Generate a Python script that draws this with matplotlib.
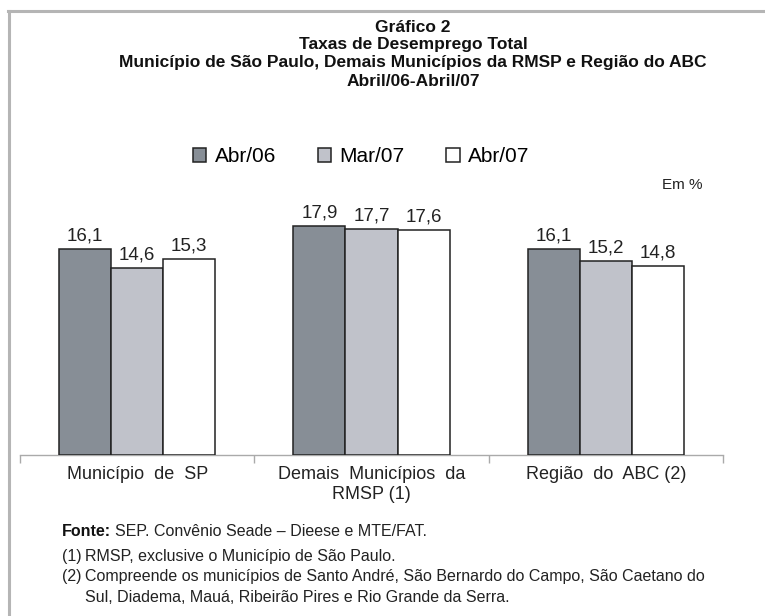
import matplotlib
matplotlib.use('Agg')
import matplotlib.pyplot as plt
from matplotlib.patches import Patch
from matplotlib.lines import Line2D
import numpy as np

NARROW = ['Liberation Sans Narrow', 'Liberation Sans', 'DejaVu Sans']
REGULAR = ['Liberation Sans', 'DejaVu Sans']

# dados
categorias = ['Município  de  SP', 'Demais  Municípios  da\nRMSP (1)', 'Região  do  ABC (2)']
series = ['Abr/06', 'Mar/07', 'Abr/07']
abr06 = [16.1, 17.9, 16.1]
mar07 = [14.6, 17.7, 15.2]
abr07 = [15.3, 17.6, 14.8]
cores = ['#878e96', '#c0c2ca', '#ffffff']

W, H = 765, 616
fig = plt.figure(figsize=(W / 100, H / 100), dpi=100)

def fx(px):
    return px / W

def fy(py):
    return 1 - py / H

# moldura cinza (topo e esquerda)
fig.add_artist(Line2D([fx(8), 1], [fy(11), fy(11)], color='#b5b5b5', lw=2.2))
fig.add_artist(Line2D([fx(9), fx(9)], [fy(11), 0], color='#b5b5b5', lw=2.2))

# titulo
titulo = ['Gráfico 2', 'Taxas de Desemprego Total',
          'Município de São Paulo, Demais Municípios da RMSP e Região do ABC',
          'Abril/06-Abril/07']
for i, t in enumerate(titulo):
    fig.text(fx(413), fy(27 + i * 18), t, ha='center', va='center',
             fontsize=12.5, fontweight='bold', family=NARROW, color='#111111')

ax = fig.add_axes([fx(20), fy(455), fx(703), 255.6 / H])
x = np.arange(len(categorias))
w = 0.222
for k, vals in enumerate([abr06, mar07, abr07]):
    bars = ax.bar(x + (k - 1) * w, vals, w, color=cores[k], edgecolor='#222222',
                  linewidth=1.1, label=series[k], zorder=3)
    for b, v in zip(bars, vals):
        ax.text(b.get_x() + b.get_width() / 2, v + 0.35, f'{v:.1f}'.replace('.', ','),
                ha='center', va='bottom', fontsize=13.5, family=REGULAR, color='#222222')

ax.set_xlim(-0.5, 2.5)
ax.set_ylim(0, 20)
for s in ['top', 'right', 'left']:
    ax.spines[s].set_visible(False)
ax.spines['bottom'].set_color('#aaaaaa')
ax.spines['bottom'].set_linewidth(1.0)
ax.set_yticks([])
ax.set_xticks([-0.5, 0.5, 1.5, 2.5])
ax.set_xticklabels([])
ax.tick_params(axis='x', length=6, color='#aaaaaa', width=1.0)
for i, c in enumerate(categorias):
    ax.text(i, -0.85, c, ha='center', va='top', fontsize=13, family=NARROW,
            color='#222222', linespacing=1.25)

handles = [Patch(facecolor=cores[k], edgecolor='#222222', linewidth=1.1) for k in range(3)]
fig.legend(handles, series, loc='center', bbox_to_anchor=(fx(361), fy(157)), ncol=3,
           frameon=False, prop={'family': REGULAR, 'size': 15}, handlelength=0.65,
           handleheight=0.65, handletextpad=0.4, columnspacing=2.0)

fig.text(fx(703), fy(185), 'Em %', ha='right', va='center', fontsize=11,
         family=REGULAR, color='#222222')

# notas
fonte = fig.text(fx(62), fy(532), 'Fonte:', ha='left', va='center', fontsize=11.5,
                 family=NARROW, fontweight='bold', color='#111111')
fig.canvas.draw()
bb = fonte.get_window_extent(renderer=fig.canvas.get_renderer())
fig.text(fx(bb.x1 + 4), fy(532), 'SEP. Convênio Seade – Dieese e MTE/FAT.', ha='left',
         va='center', fontsize=11.5, family=NARROW, color='#222222')
notas = ['RMSP, exclusive o Município de São Paulo.',
         'Compreende os municípios de Santo André, São Bernardo do Campo, São Caetano do',
         'Sul, Diadema, Mauá, Ribeirão Pires e Rio Grande da Serra.']
fig.text(fx(62), fy(556), '(1)', ha='left', va='center', fontsize=11.5, family=NARROW, color='#222222')
fig.text(fx(62), fy(577), '(2)', ha='left', va='center', fontsize=11.5, family=NARROW, color='#222222')
for t, yy in zip(notas, [556, 577, 597]):
    fig.text(fx(85), fy(yy), t, ha='left', va='center', fontsize=11.5,
             family=NARROW, color='#222222')

fig.savefig('out.png', dpi=100)
